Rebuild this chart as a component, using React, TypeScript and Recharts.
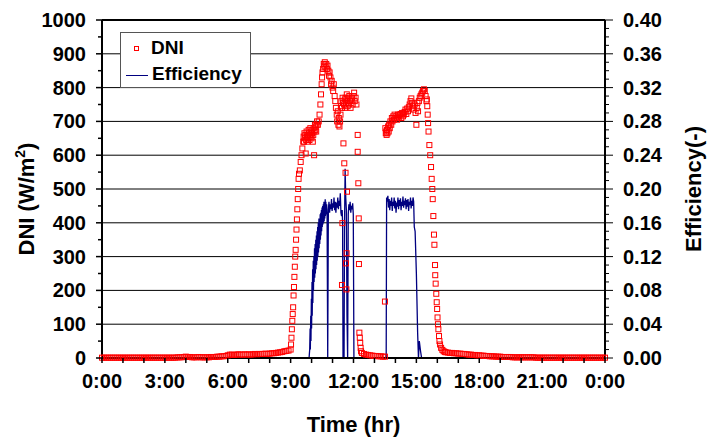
import { ComposedChart, Scatter, Line, XAxis, YAxis, ReferenceLine } from "recharts";

// hour of day ticks (labels every 3 h)
const hourTicks = [0, 1, 2, 3, 4, 5, 6, 7, 8, 9, 10, 11, 12, 13, 14, 15, 16, 17, 18, 19, 20, 21, 22, 23, 24];
const dniTicks = [0, 50, 100, 150, 200, 250, 300, 350, 400, 450, 500, 550, 600, 650, 700, 750, 800, 850, 900, 950, 1000];
const dniGrid = [100, 200, 300, 400, 500, 600, 700, 800, 900, 1000];
const effTicks = [
  0, 0.01, 0.02, 0.03, 0.04, 0.05, 0.06, 0.07, 0.08, 0.09, 0.1, 0.11, 0.12, 0.13, 0.14, 0.15, 0.16, 0.17, 0.18, 0.19, 0.2,
  0.21, 0.22, 0.23, 0.24, 0.25, 0.26, 0.27, 0.28, 0.29, 0.3, 0.31, 0.32, 0.33, 0.34, 0.35, 0.36, 0.37, 0.38, 0.39, 0.4,
];

// DNI before sunrise, one value every 0.1 h from 0:00
const dniEarlyStep = 0.1;
const dniEarly = [
  1, 1, 1, 1, 1, 1, 1, 1, 1, 1,
  1, 1, 1, 1, 1, 1, 1, 1, 1, 1,
  1, 1, 1, 1, 1, 1, 1, 1, 1, 1,
  1, 1, 1, 1, 1, 1, 2, 2, 2, 3,
  4, 3, 3, 2, 2, 2, 3, 2, 2, 2,
  2, 2, 3, 3, 3, 4, 4, 5, 5, 6,
  8, 10, 10, 9, 10, 11, 10, 10, 11, 10,
  11, 10, 11, 12, 11, 12, 12, 12, 13, 12,
  13, 14, 14, 15, 16, 17, 18, 20, 21, 22,
];

// DNI during the day [hour, W/m2]
const dniDay: [number, number][] = [
  [9.0, 25], [9.02, 40], [9.04, 60], [9.06, 85], [9.08, 110], [9.1, 130], [9.12, 150], [9.14, 185], [9.16, 210],
  [9.18, 240], [9.2, 270], [9.22, 300], [9.24, 320], [9.26, 350], [9.28, 380], [9.3, 410], [9.32, 440], [9.34, 470],
  [9.36, 500], [9.38, 530], [9.4, 545], [9.44, 555], [9.48, 580], [9.52, 600], [9.56, 620], [9.6, 640],
  [9.62, 655], [9.64, 640], [9.66, 665], [9.68, 650], [9.7, 660], [9.72, 605], [9.74, 645], [9.76, 670], [9.78, 655],
  [9.8, 640], [9.82, 660], [9.84, 650], [9.86, 675], [9.88, 665], [9.9, 645], [9.92, 660], [9.94, 680], [9.96, 655],
  [9.98, 670], [10.0, 650], [10.02, 665], [10.04, 675], [10.06, 640], [10.08, 660], [10.1, 680], [10.12, 600],
  [10.14, 670], [10.16, 690], [10.18, 675], [10.2, 685], [10.22, 670], [10.24, 690], [10.26, 700], [10.3, 690],
  [10.34, 700], [10.38, 720], [10.42, 750], [10.45, 780], [10.48, 810], [10.5, 830], [10.52, 845], [10.55, 855],
  [10.58, 870], [10.6, 865], [10.63, 875], [10.66, 860], [10.7, 870], [10.73, 855], [10.76, 865], [10.8, 850],
  [10.83, 835], [10.86, 845], [10.9, 830], [10.93, 810], [10.96, 820], [11.0, 800], [11.03, 790], [11.06, 810],
  [11.1, 775], [11.13, 760], [11.16, 740], [11.2, 720], [11.22, 700], [11.25, 730], [11.28, 690], [11.3, 710],
  [11.33, 685], [11.36, 700], [11.38, 720], [11.4, 745], [11.42, 760], [11.45, 740], [11.48, 770], [11.5, 755],
  [11.52, 635], [11.55, 750], [11.58, 765], [11.6, 740], [11.62, 770], [11.65, 755], [11.68, 780], [11.7, 760],
  [11.72, 745], [11.75, 770], [11.78, 750], [11.8, 775], [11.83, 760], [11.86, 740], [11.9, 765], [11.93, 770],
  [11.96, 750], [12.0, 775], [12.03, 785], [12.06, 760], [12.1, 770], [12.14, 750],
  [11.47, 399], [11.45, 216], [11.56, 576], [11.62, 548], [11.69, 492], [11.67, 310], [11.64, 280], [11.66, 203],
  [12.2, 660], [12.2, 610], [12.23, 517], [12.25, 413], [12.26, 278],
  [12.28, 75], [12.3, 60], [12.32, 45], [12.34, 30], [12.36, 20], [12.4, 15], [12.5, 12], [12.6, 10], [12.7, 9],
  [12.8, 8], [12.9, 7], [13.0, 6], [13.1, 6], [13.2, 5], [13.3, 5], [13.4, 4], [13.5, 4], [13.5, 167],
  [13.52, 680], [13.54, 665], [13.56, 670], [13.58, 660], [13.6, 675], [13.62, 665], [13.65, 685], [13.68, 670],
  [13.7, 690], [13.73, 680], [13.76, 700], [13.8, 690], [13.83, 710], [13.86, 700], [13.9, 715], [13.93, 705],
  [13.96, 720], [14.0, 710], [14.04, 715], [14.08, 705], [14.12, 720], [14.16, 712], [14.2, 718], [14.24, 722],
  [14.28, 710], [14.32, 725], [14.36, 715], [14.4, 720], [14.44, 728], [14.48, 735], [14.52, 722], [14.56, 738],
  [14.6, 730], [14.64, 742], [14.68, 750], [14.72, 760], [14.76, 768], [14.8, 755], [14.84, 745], [14.88, 735],
  [14.92, 750], [14.96, 725], [15.0, 690], [15.02, 740], [15.05, 755], [15.08, 730], [15.12, 760], [15.16, 770],
  [15.2, 775], [15.24, 780], [15.28, 785], [15.32, 790], [15.36, 795], [15.4, 790], [15.44, 775], [15.48, 760],
  [15.5, 765], [15.52, 745], [15.54, 720], [15.56, 695], [15.58, 670], [15.62, 630], [15.66, 600], [15.7, 565],
  [15.73, 530], [15.76, 500], [15.78, 470], [15.81, 420], [15.84, 365], [15.86, 335], [15.89, 275], [15.9, 245],
  [15.92, 220], [15.95, 190], [15.97, 165], [15.99, 145], [16.01, 120], [16.03, 100], [16.05, 85], [16.08, 65],
  [16.1, 50], [16.13, 40], [16.18, 30], [16.24, 24], [16.3, 20], [16.36, 18],
];

// DNI after sunset, one value every 0.1 h from 16:24
const dniLateStart = 16.4;
const dniLate = [
  17, 16, 15, 15, 14, 14, 13, 13, 12, 12,
  11, 10, 10, 9, 9, 8, 8, 7, 7, 6,
  6, 5, 5, 5, 4, 4, 4, 3, 3, 3,
  3, 3, 2, 2, 2, 2, 2, 2, 2, 2,
  2, 2, 2, 1, 1, 1, 1, 1, 1, 1,
  1, 1, 1, 1, 1, 1, 1, 1, 1, 1,
  1, 1, 1, 1, 1, 1, 1, 1, 1, 1,
  1, 1, 1, 1, 1, 1, 1,
];

// efficiency [hour, -]
const effPoints: [number, number][] = [
  [0, 0], [9.88, 0], [9.91, 0.01], [9.93, 0.035], [9.94, 0.01], [9.96, 0.05], [9.97, 0.02], [9.99, 0.07],
  [10.0, 0.035], [10.02, 0.09], [10.03, 0.05], [10.05, 0.105], [10.06, 0.065], [10.08, 0.115], [10.09, 0.08],
  [10.11, 0.12], [10.12, 0.09], [10.14, 0.13], [10.15, 0.095], [10.17, 0.135], [10.18, 0.1], [10.2, 0.14],
  [10.21, 0.105], [10.23, 0.145], [10.24, 0.11], [10.26, 0.15], [10.27, 0.115], [10.29, 0.155], [10.3, 0.12],
  [10.32, 0.16], [10.33, 0.125], [10.35, 0.165], [10.36, 0.13], [10.38, 0.165], [10.39, 0.135], [10.41, 0.17],
  [10.42, 0.14], [10.44, 0.172], [10.45, 0.145], [10.47, 0.175], [10.48, 0.15], [10.5, 0.178], [10.51, 0.155],
  [10.53, 0.18], [10.54, 0.158], [10.56, 0.182], [10.57, 0.16], [10.59, 0.185], [10.6, 0.162], [10.62, 0.18],
  [10.63, 0.165], [10.65, 0.188], [10.66, 0.168], [10.68, 0.185], [10.7, 0.17], [10.72, 0.182], [10.74, 0.17],
  [10.77, 0],
  [10.8, 0.175], [10.83, 0.185], [10.86, 0.172], [10.89, 0.182], [10.92, 0.176], [10.95, 0.188], [10.98, 0.174],
  [11.01, 0.183], [11.04, 0.178], [11.07, 0.19], [11.1, 0.175], [11.13, 0.185], [11.16, 0.172], [11.19, 0.184],
  [11.22, 0.178], [11.25, 0.19], [11.28, 0.176], [11.31, 0.186], [11.34, 0.18], [11.37, 0.195], [11.4, 0.172],
  [11.43, 0.168], [11.46, 0.175], [11.48, 0.16], [11.5, 0], [11.55, 0], [11.57, 0.15], [11.6, 0.224],
  [11.63, 0.19], [11.66, 0.175], [11.69, 0.05], [11.72, 0], [11.75, 0.17], [11.78, 0.182], [11.81, 0.175],
  [11.84, 0.185], [11.87, 0.172], [11.9, 0.18], [11.93, 0.176], [11.96, 0.183], [11.99, 0.17], [12.02, 0],
  [13.56, 0], [13.58, 0.19], [13.61, 0.185], [13.64, 0.192], [13.67, 0.178], [13.7, 0.188], [13.73, 0.175],
  [13.76, 0.186], [13.79, 0.18], [13.82, 0.19], [13.85, 0.174], [13.88, 0.185], [13.91, 0.18], [13.94, 0.19],
  [13.97, 0.177], [14.0, 0.186], [14.03, 0.172], [14.06, 0.184], [14.09, 0.179], [14.12, 0.19], [14.15, 0.176],
  [14.18, 0.187], [14.21, 0.18], [14.24, 0.189], [14.27, 0.175], [14.3, 0.185], [14.33, 0.18], [14.36, 0.191],
  [14.39, 0.178], [14.42, 0.186], [14.45, 0.181], [14.48, 0.189], [14.51, 0.176], [14.54, 0.187], [14.57, 0.179],
  [14.6, 0.188], [14.63, 0.174], [14.66, 0.185], [14.69, 0.181], [14.72, 0.19], [14.75, 0.177], [14.78, 0.186],
  [14.81, 0.18], [14.84, 0.19], [14.87, 0.185], [14.9, 0.155], [14.94, 0.15], [15.0, 0.1], [15.06, 0.03],
  [15.1, 0], [15.14, 0.02], [15.2, 0.008], [15.25, 0], [24, 0],
];

const dniData = [
  ...dniEarly.map((v, i) => ({ t: i * dniEarlyStep, dni: v })),
  ...dniDay.map(([t, v]) => ({ t, dni: v })),
  ...dniLate.map((v, i) => ({ t: dniLateStart + i * dniEarlyStep, dni: v })),
];
const effData = effPoints.map(([t, v]) => ({ t, eff: v }));

const font = "'Liberation Sans', Arial, sans-serif";
const tickText = { fontFamily: font, fontWeight: "bold" as const, fontSize: 20, fill: "#000" };

const XTick = (p: any) => {
  const v = p.payload.value;
  return (
    <g>
      <line x1={p.x} x2={p.x} y1={p.y} y2={p.y + 5} stroke="#000" strokeWidth={1.5} />
      {v % 3 === 0 && (
        <text x={p.x} y={p.y + 30} textAnchor="middle" {...tickText}>
          {v === 24 ? "0:00" : `${v}:00`}
        </text>
      )}
    </g>
  );
};

const LeftTick = (p: any) => {
  const v = p.payload.value;
  const major = v % 100 === 0;
  return (
    <g>
      <line x1={p.x - (major ? 6 : 4)} x2={p.x} y1={p.y} y2={p.y} stroke="#000" strokeWidth={1.5} />
      {major && (
        <text x={p.x - 16} y={p.y + 7} textAnchor="end" {...tickText}>
          {v}
        </text>
      )}
    </g>
  );
};

const RightTick = (p: any) => {
  const v = p.payload.value;
  const major = Math.round(v * 100) % 4 === 0;
  return (
    <g>
      <line x1={p.x} x2={p.x + (major ? 8 : 4)} y1={p.y} y2={p.y} stroke="#000" strokeWidth={1} />
      {major && (
        <text x={p.x + 18} y={p.y + 7} textAnchor="start" {...tickText}>
          {v.toFixed(2)}
        </text>
      )}
    </g>
  );
};

const titleText = { fontFamily: font, fontWeight: "bold" as const, fontSize: 22, fill: "#000" };

const DniTitle = (p: any) => {
  const { x, y, height } = p.viewBox;
  const cx = x + 34;
  const cy = y + height / 2 + 10;
  return (
    <text transform={`translate(${cx},${cy}) rotate(-90)`} textAnchor="middle" {...titleText}>
      DNI (W/m
      <tspan dy={-9} fontSize={14}>2</tspan>
      <tspan dy={9}>)</tspan>
    </text>
  );
};

const EffTitle = (p: any) => {
  const { x, y, height } = p.viewBox;
  const cx = x + 96;
  const cy = y + height / 2;
  return (
    <text transform={`translate(${cx},${cy}) rotate(-90)`} textAnchor="middle" {...titleText}>
      Efficiency(-)
    </text>
  );
};

const TimeTitle = (p: any) => {
  const { x, y, width } = p.viewBox;
  return (
    <text x={x + width / 2} y={y + 74} textAnchor="middle" {...titleText}>
      Time (hr)
    </text>
  );
};

const Square = (p: any) => (
  <rect x={p.cx - 2.5} y={p.cy - 2.5} width={5} height={5} fill="none" stroke="#ff0000" strokeWidth={1} />
);

const legendText = { position: "absolute" as const, fontFamily: font, fontWeight: "bold" as const, fontSize: 19, lineHeight: "20px" };

export default function App() {
  return (
    <div style={{ position: "absolute", left: 0, top: 0, width: 709, height: 438, background: "#fff" }}>
      <ComposedChart width={709} height={438} margin={{ top: 20, right: 0, bottom: 0, left: 0 }}>
        <XAxis
          dataKey="t"
          type="number"
          domain={[0, 24]}
          ticks={hourTicks}
          interval={0}
          height={80}
          tickSize={0}
          tickMargin={0}
          tickLine={false}
          tick={XTick}
          axisLine={{ stroke: "#000", strokeWidth: 2 }}
          label={{ content: TimeTitle }}
        />
        <YAxis
          yAxisId="left"
          type="number"
          domain={[0, 1000]}
          ticks={dniTicks}
          interval={0}
          width={102}
          tickSize={0}
          tickMargin={0}
          tickLine={false}
          tick={LeftTick}
          axisLine={{ stroke: "#000", strokeWidth: 2 }}
          label={{ content: DniTitle }}
        />
        <YAxis
          yAxisId="right"
          orientation="right"
          type="number"
          domain={[0, 0.4]}
          ticks={effTicks}
          interval={0}
          width={104}
          tickSize={0}
          tickMargin={0}
          tickLine={false}
          tick={RightTick}
          axisLine={{ stroke: "#000", strokeWidth: 2 }}
          label={{ content: EffTitle }}
        />
        {dniGrid.map((g) => (
          <ReferenceLine key={g} yAxisId="left" y={g} stroke="#000" strokeWidth={g === 1000 ? 2 : 1} />
        ))}
        <Line
          yAxisId="right"
          data={effData}
          dataKey="eff"
          type="linear"
          stroke="#000080"
          strokeWidth={1.3}
          dot={false}
          isAnimationActive={false}
        />
        <Scatter yAxisId="left" data={dniData} dataKey="dni" shape={Square} isAnimationActive={false} />
      </ComposedChart>
      <div
        style={{
          position: "absolute",
          left: 120,
          top: 32,
          width: 129,
          height: 54,
          border: "1px solid #555",
          background: "#fff",
        }}
      >
        <div style={{ position: "absolute", left: 13, top: 13, width: 3, height: 3, border: "1px solid #ff0000" }} />
        <span style={{ ...legendText, left: 30, top: 5 }}>DNI</span>
        <div style={{ position: "absolute", left: 5, top: 42, width: 22, height: 1, background: "#000080" }} />
        <span style={{ ...legendText, left: 31, top: 31 }}>Efficiency</span>
      </div>
    </div>
  );
}
